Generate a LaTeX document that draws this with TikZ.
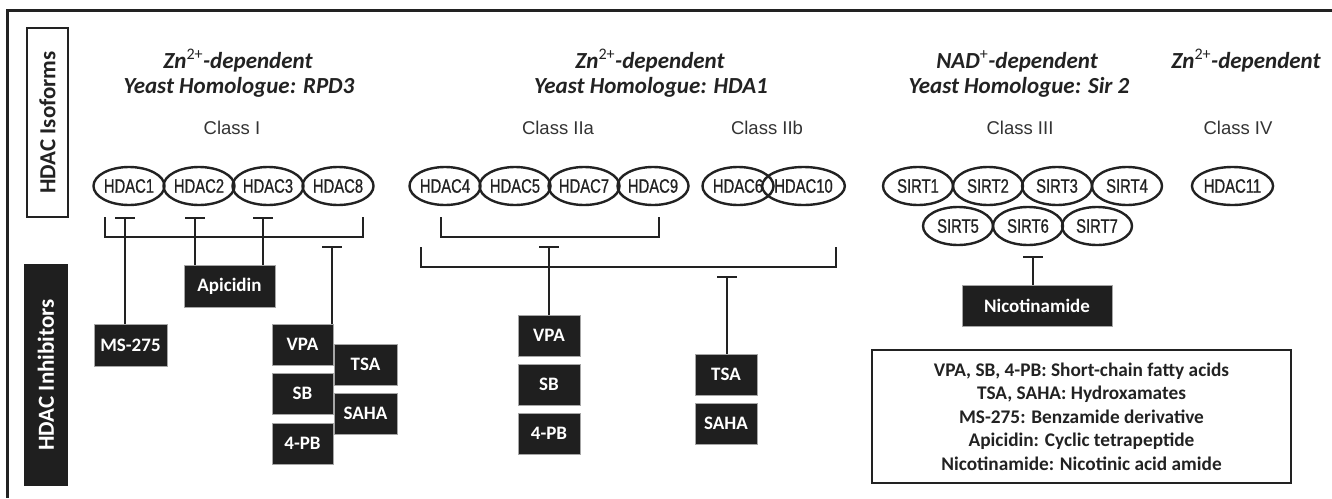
\documentclass[tikz,border=0pt]{standalone}
\usepackage{fontspec}
\setmainfont{Carlito}
\newfontfamily\narrowfont[FakeStretch=0.76,FakeBold=0.8]{Liberation Sans}
\newfontfamily\arialfont{Liberation Sans}
\usetikzlibrary{shapes.geometric,arrows.meta}
\definecolor{boxc}{HTML}{1F1F1F}
\definecolor{linec}{HTML}{222222}
\definecolor{classc}{HTML}{333333}
\tikzset{
  iso/.style={ellipse,draw=linec,line width=2.4pt,minimum width=70pt,minimum height=38pt,inner sep=0pt,
    font=\narrowfont\fontsize{19.5}{20}\selectfont,text=linec},
  drug/.style={rectangle,fill=boxc,draw=gray!70,line width=0.8pt,text=white,inner sep=0pt,
    minimum height=41pt,font=\bfseries\fontsize{19}{22}\selectfont},
  head/.style={font=\bfseries\itshape\fontsize{23}{26}\selectfont,text=linec,inner sep=0pt},
  cls/.style={font=\arialfont\fontsize{18.5}{20}\selectfont,text=classc,inner sep=0pt},
  inh/.style={line width=2.4pt,draw=linec,-{Bar[width=20pt]}},
  brk/.style={line width=2.4pt,draw=linec},
  sidelabel/.style={rotate=90,inner sep=0pt,font=\bfseries\fontsize{23}{24}\selectfont}
}
\newcommand{\sups}[1]{\textsuperscript{\mdseries\upshape #1}}
\begin{document}
\begin{tikzpicture}[x=1pt,y=-1pt]
\useasboundingbox (0,0) rectangle (1332,498);
% outer frame (top and left)
\coordinate (fa) at (7,10.5);
\coordinate (fb) at (1332,10.5);
\coordinate (fc) at (7,498);
\draw[line width=3pt,draw=linec] (fb) -- (fa) -- (fc);
% side labels
\node[sidelabel,draw=linec,line width=2.4pt,fill=white,text=linec,minimum width=189pt,minimum height=41pt] (isol) at (47.5,122.5) {HDAC Isoforms};
\node[sidelabel,fill=boxc,text=white,minimum width=222pt,minimum height=44pt] (inhl) at (46,375) {HDAC Inhibitors};
% headers
\node[head] (h1a) at (238,61) {Zn\sups{2+}-dependent};
\node[head] (h1b) at (239,87) {Yeast Homologue: RPD3};
\node[head] (h2a) at (650,61) {Zn\sups{2+}-dependent};
\node[head] (h2b) at (651,87) {Yeast Homologue: HDA1};
\node[head] (h3a) at (1017,61) {NAD\sups{+}-dependent};
\node[head] (h3b) at (1019,87) {Yeast Homologue: Sir 2};
\node[head] (h4a) at (1246,61) {Zn\sups{2+}-dependent};
% classes
\node[cls] (c1) at (232,128) {Class I};
\node[cls] (c2a) at (558,128) {Class IIa};
\node[cls] (c2b) at (767,128) {Class IIb};
\node[cls] (c3) at (1020,128) {Class III};
\node[cls] (c4) at (1238,128) {Class IV};
% isoforms
\node[iso] (e1) at (129,186) {HDAC1};
\node[iso] (e2) at (199,186) {HDAC2};
\node[iso] (e3) at (268,186) {HDAC3};
\node[iso] (e8) at (338,186) {HDAC8};
\node[iso] (e4) at (445,186) {HDAC4};
\node[iso] (e5) at (515,186) {HDAC5};
\node[iso] (e7) at (584,186) {HDAC7};
\node[iso] (e9) at (653,186) {HDAC9};
\node[iso] (e6) at (738,186) {HDAC6};
\node[iso,minimum width=67pt] (e10) at (803.5,186) {HDAC10};
\node[iso] (s1) at (918,186) {SIRT1};
\node[iso] (s2) at (988,186) {SIRT2};
\node[iso] (s3) at (1057,186) {SIRT3};
\node[iso] (s4) at (1127,186) {SIRT4};
\node[iso] (s5) at (958,226) {SIRT5};
\node[iso] (s6) at (1028,226) {SIRT6};
\node[iso] (s7) at (1097,226) {SIRT7};
\node[iso,minimum width=72pt] (e11) at (1232.5,186) {HDAC11};
% brackets
\coordinate (b1l) at (105,217); \coordinate (b1r) at (363,217);
\draw[brk] (b1l) -- ++(0,20) -| (b1r);
\coordinate (b2l) at (441,217); \coordinate (b2r) at (659,217);
\draw[brk] (b2l) -- ++(0,20) -| (b2r);
\coordinate (b3l) at (421,247); \coordinate (b3r) at (836,247);
\draw[brk] (b3l) -- ++(0,20) -| (b3r);
% inhibitor boxes
\node[drug,minimum width=73pt,minimum height=42pt] (ms) at (130.5,345) {MS-275};
\node[drug,minimum width=91pt,minimum height=42pt] (api) at (229.5,286) {Apicidin};
\node[drug,minimum width=61pt] (vpa1) at (302.5,344.5) {VPA};
\node[drug,minimum width=61pt] (sb1) at (302.5,393.5) {SB};
\node[drug,minimum width=61pt] (pb1) at (302.5,443.5) {4-PB};
\node[drug,minimum width=63pt] (tsa1) at (365.5,364.5) {TSA};
\node[drug,minimum width=63pt] (saha1) at (365.5,413.5) {SAHA};
\node[drug,minimum width=62pt] (vpa2) at (549,335.5) {VPA};
\node[drug,minimum width=62pt] (sb2) at (549,384.5) {SB};
\node[drug,minimum width=62pt] (pb2) at (549,433.5) {4-PB};
\node[drug,minimum width=62pt] (tsa2) at (726,374.5) {TSA};
\node[drug,minimum width=62pt] (saha2) at (726,423.5) {SAHA};
\node[drug,minimum width=150pt] (nic) at (1037,305.5) {Nicotinamide};
% inhibition connectors
\coordinate (t1) at (125,217);
\coordinate (t2) at (195,217);
\coordinate (t3) at (263,217);
\coordinate (t8) at (332,246);
\coordinate (t4) at (549,246);
\coordinate (t6) at (727,276);
\coordinate (tn) at (1033,256);
\draw[inh] (ms.north -| t1) -- (t1);
\draw[inh] (api.north -| t2) -- (t2);
\draw[inh] (api.north -| t3) -- (t3);
\draw[inh] (vpa1.north -| t8) -- (t8);
\draw[inh] (vpa2.north -| t4) -- (t4);
\draw[inh] (tsa2.north -| t6) -- (t6);
\draw[inh] (nic.north -| tn) -- (tn);
% legend
\node[draw=linec,line width=2.6pt,minimum width=419pt,minimum height=133pt,inner sep=0pt] (leg) at (1081.5,416.5) {};
\node[align=center,text=linec,font=\bfseries\fontsize{19.3}{23.5}\selectfont,inner sep=0pt] (legt) at (leg.center) {VPA, SB, 4-PB: Short-chain fatty acids\\TSA, SAHA: Hydroxamates\\MS-275: Benzamide derivative\\Apicidin: Cyclic tetrapeptide\\Nicotinamide: Nicotinic acid amide};
\end{tikzpicture}
\end{document}
